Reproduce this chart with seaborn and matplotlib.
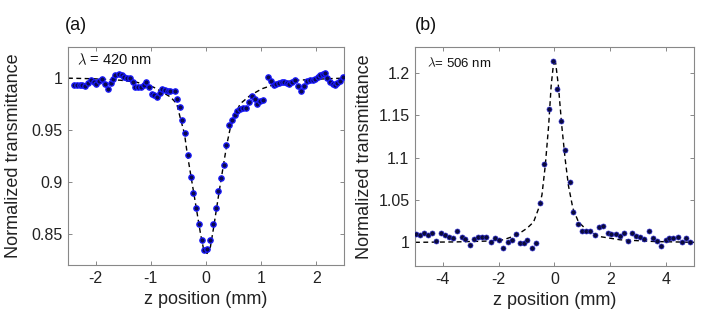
import seaborn as sns
import matplotlib.pyplot as plt
import pandas as pd

# panel (a): lambda = 420 nm, measured points
a_z = [-2.40, -2.34, -2.29, -2.24, -2.19, -2.14, -2.09, -2.03, -1.99, -1.94,
       -1.88, -1.83, -1.78, -1.73, -1.68, -1.64, -1.58, -1.53, -1.48, -1.43,
       -1.38, -1.33, -1.28, -1.23, -1.18, -1.13, -1.08, -1.03, -0.98, -0.94,
       -0.89, -0.84, -0.79, -0.74, -0.69, -0.65, -0.57, -0.53, -0.48, -0.43,
       -0.38, -0.33, -0.28, -0.23, -0.18, -0.13, -0.08, -0.03, 0.02, 0.08,
       0.13, 0.18, 0.22, 0.27, 0.32, 0.37, 0.42, 0.47, 0.53, 0.57,
       0.62, 0.67, 0.72, 0.78, 0.83, 0.88, 0.93, 0.98, 1.03, 1.13,
       1.18, 1.23, 1.27, 1.32, 1.37, 1.42, 1.47, 1.51, 1.56, 1.62,
       1.67, 1.72, 1.78, 1.83, 1.88, 1.93, 1.97, 2.02, 2.07, 2.12,
       2.15, 2.20, 2.25, 2.30, 2.34, 2.38, 2.43, 2.48]
a_t = [0.9930, 0.9930, 0.9936, 0.9930, 0.9926, 0.9952, 0.9978, 0.9962, 0.9946, 0.9968,
       0.9994, 0.9946, 0.9897, 0.9952, 0.9994, 1.0026, 1.0042, 1.0026, 1.0010, 1.0003,
       1.0003, 0.9962, 0.9913, 0.9913, 0.9913, 0.9936, 0.9962, 0.9913, 0.9849, 0.9833,
       0.9817, 0.9856, 0.9897, 0.9881, 0.9872, 0.9872, 0.9872, 0.9795, 0.9721, 0.9600,
       0.9474, 0.9256, 0.9048, 0.8897, 0.8753, 0.8599, 0.8439, 0.8343, 0.8350, 0.8439,
       0.8599, 0.8753, 0.8913, 0.9042, 0.9160, 0.9359, 0.9551, 0.9600, 0.9647, 0.9683,
       0.9705, 0.9715, 0.9715, 0.9769, 0.9824, 0.9795, 0.9753, 0.9776, 0.9792, 1.0010,
       0.9968, 0.9930, 0.9946, 0.9952, 0.9962, 0.9962, 0.9952, 0.9939, 0.9962, 0.9978,
       0.9923, 0.9872, 0.9923, 0.9968, 0.9978, 0.9978, 0.9994, 1.0010, 1.0026, 1.0042,
       1.0051, 1.0003, 0.9962, 0.9939, 0.9930, 0.9955, 0.9971, 1.0010]

# panel (a) fit (dashed)
a_fit_z = [-2.50, -2.03, -1.55, -1.25, -0.95, -0.79, -0.64, -0.53, -0.47, -0.39,
           -0.34, -0.28, -0.22, -0.16, -0.10, -0.04, 0.02, 0.08, 0.14, 0.20,
           0.26, 0.32, 0.38, 0.44, 0.50, 0.62, 0.80, 1.01, 1.28, 1.58,
           2.19, 2.50]
a_fit_t = [1.0000, 0.9994, 0.9980, 0.9960, 0.9913, 0.9865, 0.9817, 0.9753, 0.9625, 0.9465,
           0.9272, 0.9080, 0.8888, 0.8696, 0.8503, 0.8343, 0.8311, 0.8375, 0.8567, 0.8776,
           0.8980, 0.9176, 0.9369, 0.9520, 0.9620, 0.9753, 0.9833, 0.9897, 0.9946, 0.9978,
           0.9994, 1.0000]

# panel (b): lambda = 506 nm, measured points
b_z = [-4.96, -4.81, -4.67, -4.53, -4.38, -4.24, -4.07, -3.93, -3.79, -3.64,
       -3.48, -3.33, -3.19, -3.02, -2.88, -2.73, -2.59, -2.45, -2.28, -2.14,
       -1.99, -1.83, -1.68, -1.54, -1.37, -1.25, -1.10, -0.97, -0.80, -0.66,
       -0.51, -0.36, -0.20, -0.06, 0.10, 0.25, 0.39, 0.54, 0.68, 0.85,
       0.99, 1.13, 1.29, 1.45, 1.59, 1.73, 1.90, 2.04, 2.19, 2.33,
       2.50, 2.64, 2.78, 2.93, 3.07, 3.21, 3.38, 3.52, 3.67, 3.81,
       3.98, 4.12, 4.26, 4.41, 4.57, 4.72, 4.86]
b_t = [1.0100, 1.0086, 1.0106, 1.0086, 1.0106, 1.0016, 1.0114, 1.0086, 1.0067, 1.0047,
       1.0137, 1.0067, 1.0035, 0.9969, 1.0035, 1.0059, 1.0059, 1.0067, 1.0008, 1.0055,
       1.0027, 0.9937, 1.0000, 1.0027, 1.0094, 0.9996, 0.9988, 1.0027, 0.9937, 0.9996,
       1.0470, 1.0930, 1.1580, 1.2145, 1.1810, 1.1430, 1.1090, 1.0710, 1.0360, 1.0220,
       1.0137, 1.0137, 1.0137, 1.0086, 1.0180, 1.0196, 1.0106, 1.0094, 1.0098, 1.0075,
       1.0106, 1.0016, 1.0106, 1.0078, 1.0067, 1.0039, 1.0137, 1.0047, 1.0020, 0.9961,
       1.0027, 1.0055, 1.0055, 1.0067, 1.0000, 1.0047, 1.0008]

# panel (b) fit (dashed)
b_fit_z = [-5.0, -3.5, -2.4, -1.83, -1.35, -0.99, -0.75, -0.57, -0.45, -0.33,
           -0.21, -0.12, -0.04, 0.04, 0.14, 0.26, 0.38, 0.50, 0.66, 0.86,
           1.16, 1.64, 2.35, 3.55, 5.0]
b_fit_t = [1.0000, 1.0005, 1.0015, 1.0030, 1.0086, 1.0165, 1.0240, 1.0400, 1.0560, 1.0910,
           1.1380, 1.1850, 1.2100, 1.2125, 1.1850, 1.1380, 1.0990, 1.0670, 1.0400, 1.0240,
           1.0145, 1.0067, 1.0030, 1.0010, 1.0000]

df_a = pd.DataFrame({'z': a_z, 'T': a_t})
df_a_fit = pd.DataFrame({'z': a_fit_z, 'T': a_fit_t})
df_b = pd.DataFrame({'z': b_z, 'T': b_t})
df_b_fit = pd.DataFrame({'z': b_fit_z, 'T': b_fit_t})

sns.set_style("ticks")
plt.rcParams['font.family'] = ['Liberation Sans', 'DejaVu Sans']
plt.rcParams['mathtext.fontset'] = 'cm'
plt.rcParams['axes.unicode_minus'] = False

fig = plt.figure(figsize=(7.08, 3.27), dpi=100)
ax1 = fig.add_axes([68 / 708, 62 / 327, 276 / 708, 218 / 327])
ax2 = fig.add_axes([415 / 708, 61 / 327, 279 / 708, 219 / 327])

dash = (0, (3.5, 2.5))

# panel (a)
sns.lineplot(data=df_a_fit, x='z', y='T', ax=ax1, color='black', lw=1.0,
             linestyle=dash, sort=False, zorder=2)
sns.scatterplot(data=df_a, x='z', y='T', ax=ax1, s=15, color='#0a0a50',
                edgecolor='#1a1aff', linewidth=0.9, zorder=3)
ax1.set_xlim(-2.5, 2.5)
ax1.set_ylim(0.82, 1.03)
ax1.set_xticks([-2, -1, 0, 1, 2])
ax1.set_yticks([0.85, 0.9, 0.95, 1])
ax1.set_yticklabels(['0.85', '0.9', '0.95', '1'])
ax1.text(0.033, 0.94, r'$\lambda$ = 420 nm', transform=ax1.transAxes,
         fontsize=10.5, va='center', ha='left', color='#111111')
ax1.yaxis.set_label_coords(-0.165, 0.5)
fig.text(65 / 708, 1 - 26 / 327, '(a)', fontsize=13, va='center', ha='left', color='#111111')

# panel (b)
sns.lineplot(data=df_b_fit, x='z', y='T', ax=ax2, color='black', lw=1.0,
             linestyle=dash, sort=False, zorder=2)
sns.scatterplot(data=df_b, x='z', y='T', ax=ax2, s=13, color='#0b0b3c',
                edgecolor='#2a2acc', linewidth=0.5, zorder=3)
ax2.set_xlim(-5, 5)
ax2.set_ylim(0.972, 1.231)
ax2.set_xticks([-4, -2, 0, 2, 4])
ax2.set_yticks([1, 1.05, 1.1, 1.15, 1.2])
ax2.set_yticklabels(['1', '1.05', '1.1', '1.15', '1.2'])
ax2.text(0.043, 0.927, r'$\lambda$= 506 nm', transform=ax2.transAxes,
         fontsize=9.5, va='center', ha='left', color='#111111')
ax2.yaxis.set_label_coords(-0.15, 0.5)
fig.text(415 / 708, 1 - 26 / 327, '(b)', fontsize=13, va='center', ha='left', color='#111111')

# matlab-like boxed axes with inward ticks
for ax in (ax1, ax2):
    ax.set_xlabel('z position (mm)', fontsize=13, color='#222222')
    ax.set_ylabel('Normalized transmittance', fontsize=13, color='#222222')
    ax.tick_params(direction='in', length=3, width=0.7, top=True, right=True,
                   labelsize=11.5, colors='#888888', labelcolor='#222222', pad=4)
    for sp in ax.spines.values():
        sp.set_visible(True)
        sp.set_color('#888888')
        sp.set_linewidth(0.8)

fig.savefig('out.png', dpi=100)
